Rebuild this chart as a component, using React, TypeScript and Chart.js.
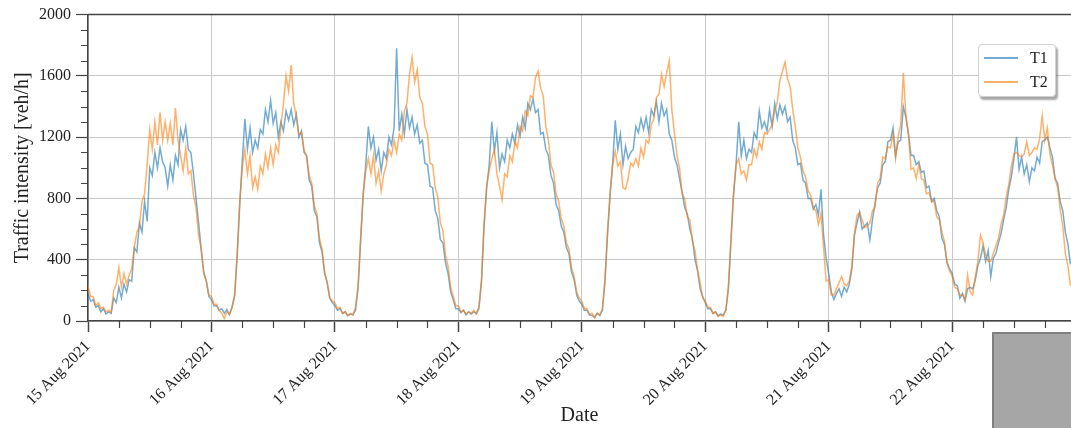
import React, { useEffect, useRef } from "react";
import { Chart, registerables } from "chart.js";

Chart.register(...registerables);

// Sampling step of the series (hours between consecutive values), starting 15 Aug 2021 00:00
const STEP_HOURS = 0.5;

const DAY_LABELS = [
  "15 Aug 2021",
  "16 Aug 2021",
  "17 Aug 2021",
  "18 Aug 2021",
  "19 Aug 2021",
  "20 Aug 2021",
  "21 Aug 2021",
  "22 Aug 2021",
];

const Y_MIN = 0;
const Y_MAX = 2000;
const Y_STEP = 400;
const X_MAX_HOURS = 191.1;

// T1 traffic intensity [veh/h], half-hourly
const T1 = [
  // 15 Aug
  180, 130, 140, 90, 100, 60, 80, 45, 60, 50,
  150, 120, 220, 150, 240, 190, 270, 260, 480, 450,
  640, 580, 780, 650, 1000, 950, 1100, 1000, 1130, 1040,
  1000, 880, 1020, 920, 1080, 1020, 1250, 1180, 1270, 1120,
  1100, 960, 800, 640, 470, 320, 260, 160,
  // 16 Aug
  140, 100, 100, 70, 80, 50, 75, 40, 90, 160,
  420, 760, 1050, 1320, 1120, 1260, 1100, 1180, 1130, 1250,
  1220, 1380, 1300, 1440, 1290, 1360, 1200, 1300, 1240, 1370,
  1310, 1380, 1280, 1350, 1200, 1240, 1100, 1080, 920, 880,
  720, 680, 510, 450, 310, 250, 150, 120,
  // 17 Aug
  100, 70, 80, 50, 60, 35, 45, 40, 70, 210,
  520, 820, 1020, 1270, 1130, 1200, 1050, 1120, 980, 1100,
  1060, 1200, 1150, 1260, 1780, 1240, 1350, 1220, 1380, 1260,
  1330, 1220, 1280, 1160, 1180, 1030, 1020, 880, 870, 720,
  670, 530, 510, 380, 310, 190, 140, 80,
  // 18 Aug
  80, 55, 70, 40, 60, 45, 60, 50, 90, 260,
  620, 870, 1020, 1300, 1110, 1230, 1000, 1090, 1040, 1180,
  1130, 1220, 1160, 1280, 1210, 1330, 1260, 1420, 1380, 1450,
  1360, 1380, 1220, 1230, 1120, 1080, 950, 900, 760, 720,
  620, 580, 480, 440, 320, 270, 170, 130,
  // 19 Aug
  110, 70, 70, 40, 35, 25, 50, 35, 70, 260,
  570, 820, 1030, 1310, 1120, 1220, 1020, 1140, 1060, 1100,
  1120, 1270, 1230, 1320, 1250, 1330, 1230, 1380, 1340, 1430,
  1300, 1420, 1340, 1380, 1220, 1180, 1070, 1020, 930, 840,
  740, 700, 600, 540, 400, 330, 210, 160,
  // 20 Aug
  120, 80, 80, 50, 60, 35, 45, 40, 70, 210,
  520, 820, 1030, 1300, 1080, 1180, 1060, 1120, 1100, 1230,
  1190, 1370, 1260, 1300, 1240, 1380, 1270, 1420, 1320, 1410,
  1350, 1400, 1300, 1330, 1180, 1130, 1020, 1030, 920, 900,
  800, 800, 730, 760, 690, 860, 560, 410,
  // 21 Aug
  310, 190, 140, 180, 210, 160, 220, 190, 240, 340,
  560, 640, 710, 600, 620, 640, 530, 660, 770, 870,
  900, 1020, 1040, 1170, 1180, 1260, 1080, 1170, 1180, 1400,
  1330, 1220, 1080, 1080, 1020, 1040, 970, 980, 870, 880,
  780, 800, 720, 680, 540, 500, 380, 340,
  // 22 Aug
  310, 240, 230, 150, 180, 130, 210, 220, 210, 270,
  360, 410, 490, 390, 460, 290, 410, 440, 510, 570,
  660, 740, 860, 940, 1060, 1200, 990, 1070, 960, 1020,
  910, 1000, 980, 1070, 1030, 1170, 1180, 1200, 1130, 1070,
  930, 900, 780, 720, 580, 500, 370,
];

// T2 traffic intensity [veh/h], half-hourly
const T2 = [
  // 15 Aug
  230, 160, 160, 100, 120, 80, 90, 60, 70, 55,
  200, 240, 350, 220, 310, 240, 300, 340, 480, 580,
  620, 780, 830, 1020, 1250, 1120, 1300, 1150, 1360, 1180,
  1300, 1180, 1290, 1150, 1390, 1180, 1080, 980, 1130, 960,
  980, 820, 740, 560, 470, 310, 260, 170,
  // 16 Aug
  160, 110, 110, 70, 50, 15, 60, 45, 90, 170,
  440, 780, 1000, 1120, 960, 1080, 870, 940, 860, 1010,
  960, 1090, 1000, 1130, 1020, 1150, 1100, 1270, 1420, 1600,
  1500, 1670, 1420, 1330, 1220, 1230, 1120, 1070, 950, 900,
  750, 700, 540, 470, 320, 250, 150, 130,
  // 17 Aug
  120, 80, 90, 50, 60, 35, 50, 40, 90, 230,
  540, 840, 980, 1060, 960, 1080, 900, 980, 850, 960,
  1020, 1120, 1080, 1180, 1100, 1220, 1180, 1370, 1420, 1610,
  1720, 1560, 1640, 1460, 1420, 1270, 1220, 1030, 1020, 870,
  810, 640, 590, 430, 360, 220, 160, 100,
  // 18 Aug
  100, 60, 70, 45, 60, 50, 70, 45, 80, 270,
  640, 880, 980, 1060, 1120, 960, 880, 790, 960, 940,
  1080, 1040, 1170, 1130, 1270, 1240, 1370, 1340, 1470, 1460,
  1590, 1630, 1520, 1470, 1270, 1180, 1020, 970, 830, 780,
  670, 620, 510, 470, 350, 290, 190, 150,
  // 19 Aug
  130, 80, 80, 40, 50, 20, 50, 40, 80, 270,
  580, 840, 1020, 1110, 1010, 1040, 870, 860, 930, 1030,
  1010, 1060, 1010, 1130, 1070, 1180, 1160, 1280, 1320, 1460,
  1480, 1610, 1530, 1620, 1700, 1380, 1230, 1080, 1000, 830,
  800, 680, 660, 520, 460, 330, 250, 150,
  // 20 Aug
  130, 90, 90, 50, 60, 30, 40, 30, 70, 230,
  540, 840, 1020, 1060, 960, 980, 920, 1020, 1020, 1120,
  1070, 1170, 1120, 1230, 1220, 1250, 1280, 1370, 1430, 1570,
  1630, 1690, 1580, 1530, 1380, 1270, 1130, 1070, 980, 940,
  850, 820, 740, 720, 630, 700, 480, 260,
  // 21 Aug
  270, 170, 170, 210, 250, 290, 240, 230, 260, 360,
  570, 690, 710, 660, 610, 620, 640, 720, 740, 900,
  930, 1070, 1060, 1140, 1130, 1220, 1060, 1210, 1280, 1620,
  1340, 1220, 990, 1000, 930, 1020, 930, 920, 830, 840,
  780, 780, 680, 660, 580, 520, 380, 330,
  // 22 Aug
  290, 220, 210, 170, 170, 140, 300, 190, 170, 290,
  390, 560, 510, 430, 390, 390, 440, 490, 540, 630,
  690, 810, 890, 1010, 1090, 1100, 1080, 1070, 1090, 1170,
  1080, 1100, 1130, 1120, 1190, 1340, 1180, 1260, 1090, 1020,
  930, 870, 730, 620, 440, 360, 230,
];

const SERIES_NAMES = ["T1", "T2"];
const SERIES_COLORS = ["rgba(31,119,180,0.62)", "rgba(255,127,14,0.62)"];

const FONT = "'Liberation Serif', 'Times New Roman', serif";
const AXIS_COLOR = "#444444";

export default function App() {
  const canvasRef = useRef<HTMLCanvasElement | null>(null);

  useEffect(() => {
    const canvas = canvasRef.current;
    if (!canvas) return;

    const toPoints = (arr: number[]) => arr.map((v, i) => ({ x: i * STEP_HOURS, y: v }));
    const dayTicks = DAY_LABELS.map((_, i) => i * 24);

    const minorTicks = {
      id: "minorTicks",
      afterDraw(chart: any) {
        const { ctx, chartArea, scales } = chart;
        ctx.save();
        ctx.strokeStyle = AXIS_COLOR;
        ctx.lineWidth = 1.2;
        ctx.beginPath();
        for (let h = 6; h < X_MAX_HOURS; h += 6) {
          if (h % 24 === 0) continue;
          const px = Math.round(scales.x.getPixelForValue(h)) + 0.5;
          ctx.moveTo(px, chartArea.bottom);
          ctx.lineTo(px, chartArea.bottom + 7);
        }
        for (let v = 100; v < Y_MAX; v += 100) {
          if (v % Y_STEP === 0) continue;
          const py = Math.round(scales.y.getPixelForValue(v)) + 0.5;
          ctx.moveTo(chartArea.left - 7, py);
          ctx.lineTo(chartArea.left, py);
        }
        ctx.stroke();
        ctx.lineWidth = 1.5;
        ctx.beginPath();
        ctx.moveTo(chartArea.left, chartArea.top);
        ctx.lineTo(chartArea.right, chartArea.top);
        ctx.stroke();
        ctx.restore();
      },
    };

    const chart = new Chart(canvas, {
      type: "line",
      data: {
        datasets: [
          {
            label: SERIES_NAMES[0],
            data: toPoints(T1),
            borderColor: SERIES_COLORS[0],
            borderWidth: 1.5,
            pointRadius: 0,
            tension: 0,
            fill: false,
            order: 2,
          },
          {
            label: SERIES_NAMES[1],
            data: toPoints(T2),
            borderColor: SERIES_COLORS[1],
            borderWidth: 1.5,
            pointRadius: 0,
            tension: 0,
            fill: false,
            order: 1,
          },
        ],
      },
      options: {
        animation: false,
        responsive: true,
        maintainAspectRatio: false,
        devicePixelRatio: 1,
        layout: { padding: { top: 14, left: 0, right: 0, bottom: 0 } },
        plugins: {
          legend: { display: false },
          tooltip: { enabled: false },
        },
        scales: {
          x: {
            type: "linear",
            min: 0,
            max: X_MAX_HOURS,
            afterBuildTicks: (scale: any) => {
              scale.ticks = dayTicks.map((v) => ({ value: v }));
            },
            afterFit: (scale: any) => {
              scale.height = 107;
            },
            ticks: {
              autoSkip: false,
              minRotation: 45,
              maxRotation: 45,
              padding: 5,
              color: "#222",
              font: { family: FONT, size: 16 },
              callback: (value: any) => DAY_LABELS[Math.round(Number(value) / 24)] ?? "",
            },
            grid: {
              color: "#c8c8c8",
              lineWidth: 1,
              tickColor: AXIS_COLOR,
              tickLength: 11,
              tickWidth: 1.5,
            },
            border: { display: true, color: AXIS_COLOR, width: 1.5 },
            title: {
              display: true,
              text: "Date",
              color: "#222",
              font: { family: FONT, size: 20 },
              padding: { top: 0, bottom: 0 },
            },
          },
          y: {
            type: "linear",
            min: Y_MIN,
            max: Y_MAX,
            afterFit: (scale: any) => {
              scale.width = 88;
            },
            ticks: {
              stepSize: Y_STEP,
              padding: 5,
              color: "#222",
              font: { family: FONT, size: 16 },
              callback: (value: any) => String(value),
            },
            grid: {
              color: "#c8c8c8",
              lineWidth: 1,
              tickColor: AXIS_COLOR,
              tickLength: 12,
              tickWidth: 1.2,
            },
            border: { display: true, color: AXIS_COLOR, width: 1.5 },
            title: {
              display: true,
              text: "Traffic intensity [veh/h]",
              color: "#222",
              font: { family: FONT, size: 20 },
              padding: { top: 11, bottom: 0 },
            },
          },
        },
      },
      plugins: [minorTicks],
    });

    return () => chart.destroy();
  }, []);

  return (
    <div
      style={{
        position: "fixed",
        left: 0,
        top: 0,
        width: 1071,
        height: 428,
        background: "#fff",
        overflow: "hidden",
      }}
    >
      <canvas ref={canvasRef} style={{ width: "100%", height: "100%" }} />
      <div
        style={{
          position: "absolute",
          left: 978,
          top: 44,
          width: 78,
          height: 53,
          boxSizing: "border-box",
          background: "#fff",
          border: "1px solid #d0d0d0",
          borderRadius: 4,
          boxShadow: "2px 3px 2px rgba(0,0,0,0.35)",
          fontFamily: FONT,
          fontSize: 16,
          color: "#222",
        }}
      >
        {SERIES_NAMES.map((name, i) => (
          <div
            key={name}
            style={{ position: "absolute", left: 4, top: 4 + i * 24, height: 20, width: 72 }}
          >
            <div
              style={{
                position: "absolute",
                left: 1,
                top: 8,
                width: 34,
                height: 1.5,
                background: SERIES_COLORS[i],
              }}
            />
            <span style={{ position: "absolute", left: 47, top: 0, lineHeight: "18px" }}>{name}</span>
          </div>
        ))}
      </div>
      <div
        style={{
          position: "absolute",
          left: 992,
          top: 332,
          width: 79,
          height: 96,
          boxSizing: "border-box",
          background: "#a6a6a6",
          borderLeft: "2px solid #808080",
          borderTop: "2px solid #808080",
        }}
      />
    </div>
  );
}
